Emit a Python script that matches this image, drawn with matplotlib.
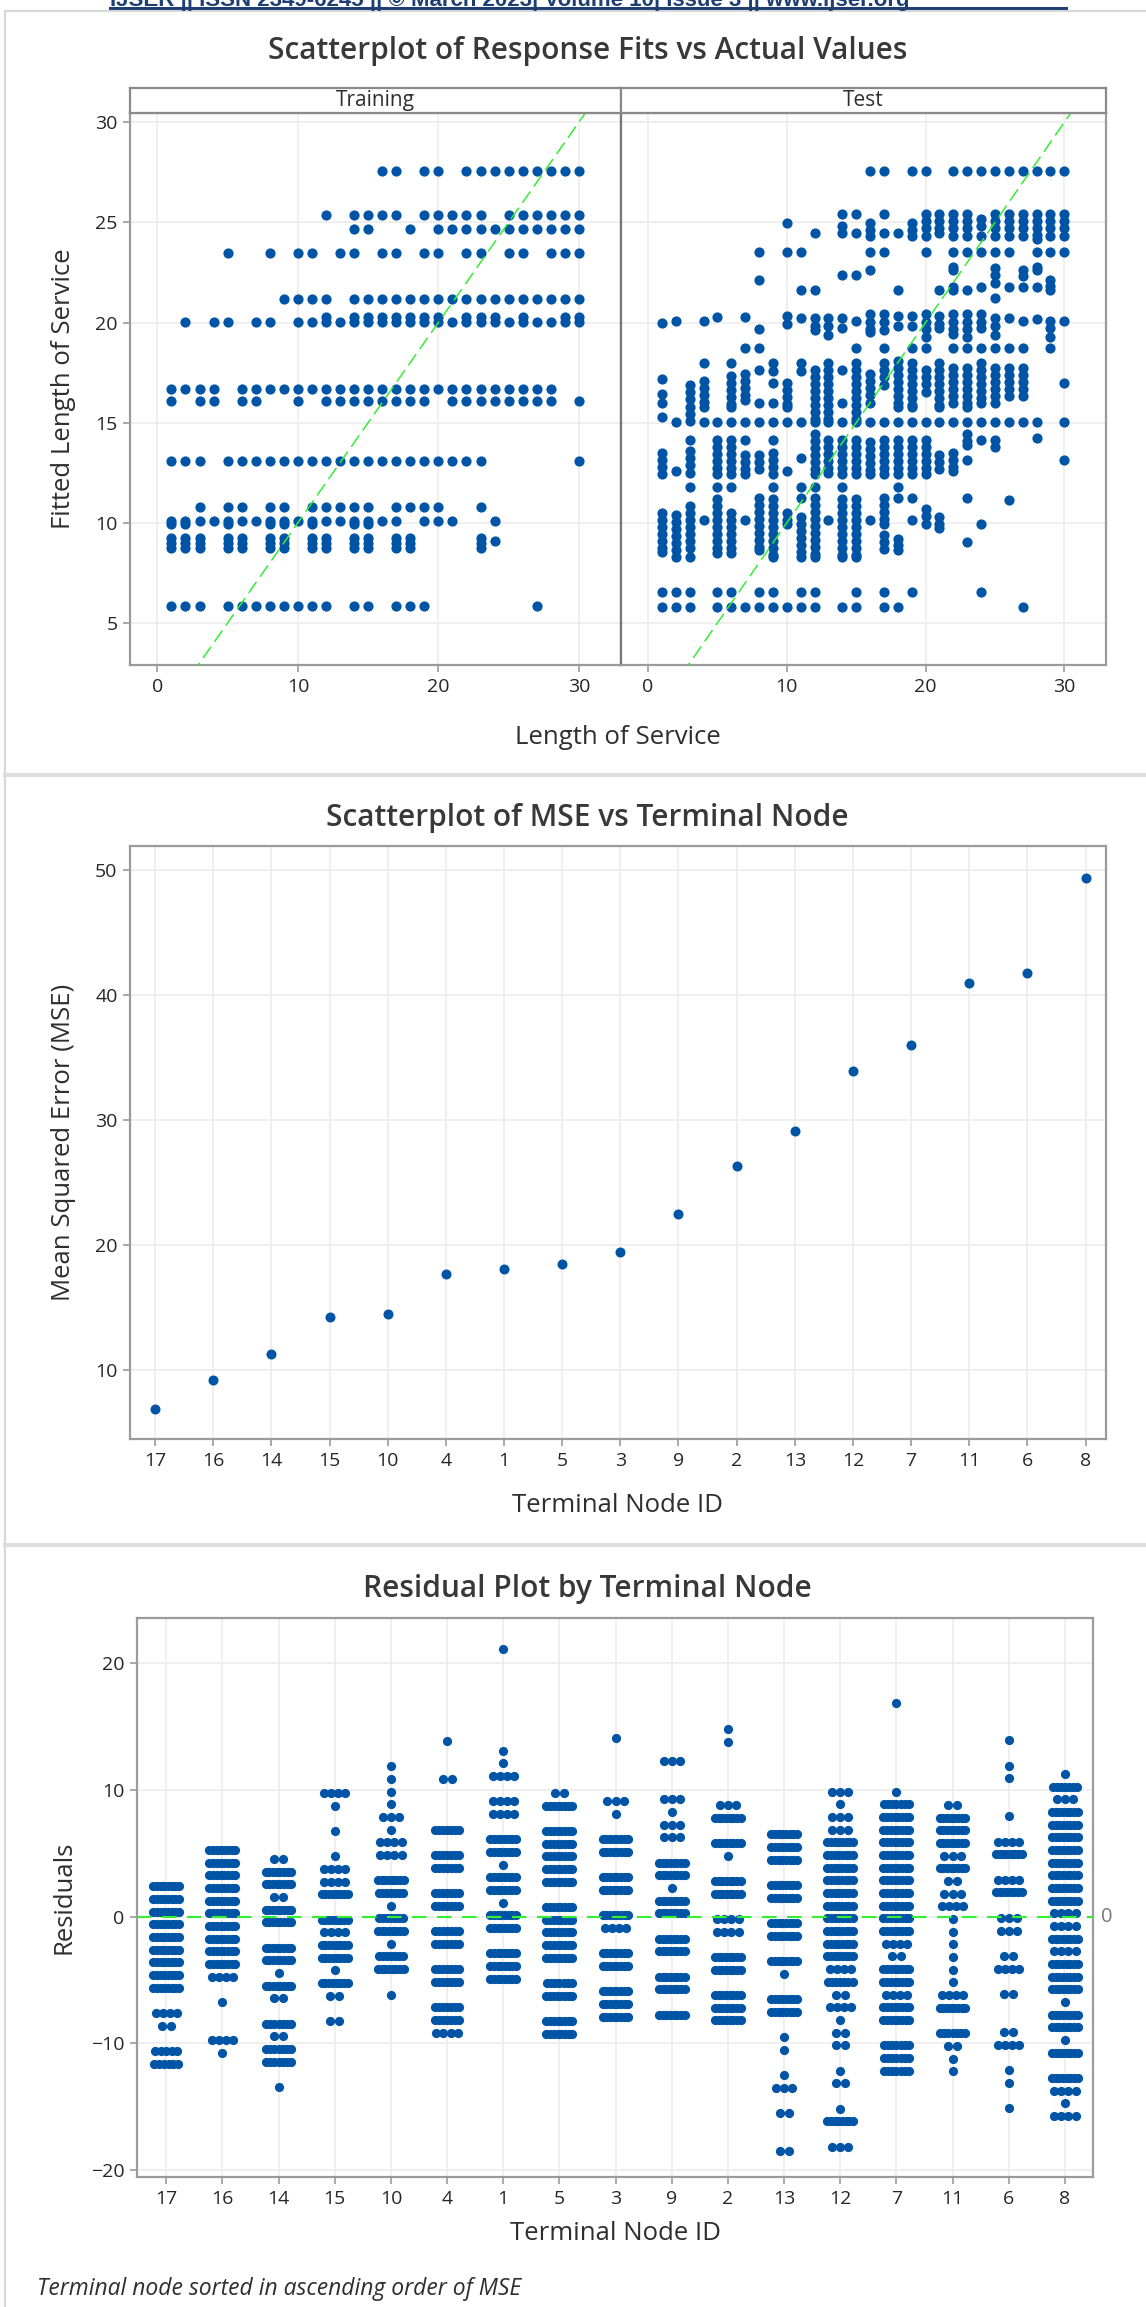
import numpy as np
import matplotlib
matplotlib.use("Agg")
import matplotlib.pyplot as plt
from matplotlib.lines import Line2D
from matplotlib.transforms import blended_transform_factory

plt.rcParams['font.family'] = ['Open Sans', 'DejaVu Sans']

# ---------------------------------------------------------------- data
# Training: fitted value level -> actual lengths of service at that level
train_levels = [27.55, 25.35, 24.65, 23.45, 21.15, 20.05, 20.25, 16.7, 16.1,
                13.1, 10.8, 10.1, 9.95, 9.25, 9.1, 9.0, 8.75, 5.85]
train_actual = [
    [16, 17, 19, 20, 22, 23, 24, 25, 26, 27, 28, 29, 30],
    [12, 14, 15, 16, 17, 19, 20, 21, 22, 23, 25, 26, 27, 28, 29, 30],
    [14, 15, 18, 20, 21, 22, 23, 24, 25, 26, 27, 28, 29, 30],
    [5, 8, 10, 11, 13, 14, 16, 17, 19, 20, 22, 23, 25, 26, 28, 29, 30],
    [9, 10, 11, 12, 14, 15, 16, 17, 18, 19, 20, 21, 22, 23, 24, 25, 26, 27, 28, 29, 30],
    [2, 4, 5, 7, 8, 10, 11, 12, 13, 14, 15, 16, 17, 18, 19, 20, 21, 22, 23, 24, 25, 26, 27, 28, 29, 30],
    [12, 14, 15, 16, 17, 18, 19, 20, 22, 23, 24, 26, 29, 30],
    [1, 2, 3, 4, 6, 7, 8, 9, 10, 11, 12, 13, 14, 15, 16, 17, 18, 19, 20, 21, 22, 23, 24, 25, 26, 27, 28],
    [1, 3, 4, 6, 7, 10, 12, 13, 14, 15, 16, 17, 18, 19, 21, 22, 23, 24, 25, 26, 27, 28, 30],
    [1, 2, 3, 5, 6, 7, 8, 9, 10, 11, 12, 13, 14, 15, 16, 17, 18, 19, 20, 21, 22, 23, 30],
    [3, 5, 6, 8, 9, 11, 12, 13, 14, 15, 17, 18, 19, 20, 23],
    [1, 2, 3, 4, 5, 6, 7, 8, 9, 10, 11, 12, 13, 14, 15, 16, 17, 19, 20, 21, 24],
    [1, 2, 5, 8, 9, 11, 14, 15],
    [1, 2, 3, 5, 6, 8, 9, 11, 12, 14, 15, 17, 18, 23],
    [24],
    [1, 2, 3, 5, 6, 8, 9, 11, 12, 14, 15, 17, 18, 23],
    [1, 2, 3, 5, 6, 8, 9, 11, 12, 14, 15, 17, 18, 23],
    [1, 2, 3, 5, 6, 7, 8, 9, 10, 11, 12, 14, 15, 17, 18, 19, 27],
]

# Test: actual length of service -> fitted values observed
test_actual = list(range(1, 31))
test_fits = [
    [20.0, 17.2, 16.45, 16.0, 15.3, 13.5, 13.15, 12.8, 12.45, 10.5, 10.15, 9.8, 9.45, 9.1, 8.75, 8.55, 6.55, 5.8],
    [20.1, 15.05, 12.6, 10.4, 10.05, 9.7, 9.35, 9.0, 8.65, 8.3, 6.55, 5.8],
    [16.9, 16.55, 16.2, 15.8, 15.45, 15.1, 14.15, 13.6, 13.25, 12.9, 12.5, 11.8, 10.85, 10.5, 10.15, 9.8, 9.45, 9.1, 8.75, 8.3, 6.55, 5.8],
    [20.1, 18.0, 17.1, 16.75, 16.4, 16.05, 15.8, 15.05, 10.15],
    [20.25, 15.05, 14.15, 13.8, 13.45, 13.1, 12.75, 12.45, 11.8, 11.2, 10.85, 10.5, 10.15, 9.8, 9.45, 9.1, 8.75, 8.5, 6.55, 5.8],
    [18.0, 17.35, 17.0, 16.65, 16.3, 15.95, 15.8, 15.05, 14.15, 13.8, 13.45, 13.1, 12.75, 12.45, 11.8, 10.5, 10.15, 9.8, 9.45, 9.1, 8.75, 8.5, 6.55, 5.8],
    [20.25, 18.75, 17.45, 17.1, 16.75, 16.4, 16.15, 15.05, 14.15, 13.4, 13.05, 12.7, 12.45, 10.15, 5.8],
    [23.5, 22.1, 19.7, 18.75, 17.65, 16.0, 15.05, 13.4, 13.05, 12.7, 11.25, 10.9, 10.55, 10.2, 9.85, 9.5, 9.15, 8.8, 8.65, 6.55, 5.8],
    [18.0, 17.6, 17.0, 16.0, 15.05, 14.15, 13.5, 13.15, 12.8, 12.45, 11.8, 11.2, 10.85, 10.5, 10.15, 9.8, 9.45, 9.1, 8.75, 8.4, 8.3, 6.55, 5.8],
    [24.95, 23.5, 20.3, 19.95, 17.0, 16.65, 16.3, 15.95, 15.8, 15.05, 12.6, 10.5, 10.15, 9.95, 5.8],
    [23.5, 21.6, 20.2, 18.0, 17.6, 15.05, 13.25, 11.8, 11.25, 10.3, 9.95, 9.6, 9.25, 8.9, 8.55, 8.3, 6.55, 5.8],
    [24.45, 21.6, 20.2, 19.85, 19.65, 17.65, 17.3, 16.95, 16.6, 16.25, 15.9, 15.55, 15.2, 15.05, 14.45, 14.1, 13.75, 13.4, 13.05, 12.7, 12.45, 11.8, 11.25, 10.9, 10.55, 10.2, 9.85, 9.5, 9.15, 8.8, 8.45, 8.3, 6.55, 5.8],
    [20.2, 19.85, 19.4, 18.0, 17.65, 17.3, 16.95, 16.6, 16.25, 15.9, 15.55, 15.2, 15.05, 14.15, 13.8, 13.45, 13.1, 12.75, 12.5, 10.15],
    [25.4, 24.8, 24.45, 22.35, 20.2, 19.75, 17.65, 16.0, 15.05, 14.15, 13.8, 13.45, 13.1, 12.75, 12.45, 11.8, 11.2, 10.85, 10.5, 10.15, 9.8, 9.45, 9.1, 8.75, 8.4, 8.3, 5.8],
    [25.4, 24.45, 22.35, 20.1, 18.75, 18.0, 17.65, 17.3, 16.95, 16.6, 16.25, 15.9, 15.55, 15.2, 15.05, 14.15, 13.8, 13.45, 13.1, 12.75, 12.45, 11.2, 10.85, 10.5, 10.15, 9.8, 9.45, 9.1, 8.75, 8.4, 8.3, 6.55, 5.8],
    [27.55, 24.95, 24.6, 24.3, 23.5, 22.6, 20.4, 20.05, 19.7, 19.55, 17.45, 17.1, 16.75, 16.4, 16.0, 15.05, 14.05, 13.7, 13.35, 13.0, 12.65, 12.45, 10.15],
    [27.55, 25.4, 24.45, 23.5, 20.4, 20.05, 19.65, 18.75, 18.0, 17.65, 17.3, 16.9, 15.05, 14.15, 13.8, 13.45, 13.1, 12.75, 12.45, 11.25, 10.9, 10.55, 10.2, 9.95, 9.4, 9.05, 8.7, 6.55, 5.8],
    [24.45, 21.6, 20.3, 19.85, 18.1, 17.75, 17.4, 17.05, 16.7, 16.35, 16.0, 15.8, 15.05, 14.15, 13.8, 13.45, 13.1, 12.75, 12.45, 11.8, 11.25, 9.2, 8.9, 8.65, 5.8],
    [27.55, 24.95, 24.6, 24.3, 20.3, 19.85, 18.75, 18.0, 17.65, 17.3, 16.95, 16.6, 16.25, 15.9, 15.8, 15.05, 14.15, 13.8, 13.45, 13.1, 12.75, 12.45, 11.25, 10.15, 6.55],
    [27.55, 25.4, 25.05, 24.7, 24.3, 23.5, 20.4, 20.05, 19.7, 19.3, 18.75, 17.65, 17.3, 16.95, 16.55, 15.05, 14.15, 13.8, 13.45, 13.1, 12.75, 12.45, 10.7, 10.35, 9.95],
    [25.4, 25.05, 24.7, 24.45, 21.6, 20.3, 19.95, 19.75, 18.0, 17.65, 17.3, 16.95, 16.6, 16.25, 15.9, 15.8, 15.05, 13.4, 13.05, 12.7, 10.3, 9.95, 9.75],
    [27.55, 25.4, 25.05, 24.7, 24.3, 23.5, 22.75, 22.6, 21.75, 21.6, 20.4, 20.05, 19.7, 19.45, 18.75, 17.75, 17.4, 17.05, 16.7, 16.35, 16.0, 15.05, 13.5, 13.15, 12.8, 12.6],
    [27.55, 25.4, 25.05, 24.7, 24.3, 23.5, 21.6, 20.4, 20.05, 19.7, 19.3, 18.75, 17.75, 17.4, 17.05, 16.7, 16.35, 16.0, 15.8, 15.05, 14.45, 14.1, 13.9, 13.15, 11.25, 9.05],
    [27.55, 25.15, 24.8, 24.3, 23.5, 21.75, 20.4, 20.05, 19.75, 18.75, 18.0, 17.65, 17.3, 16.95, 16.6, 16.25, 16.0, 15.05, 14.15, 9.95, 6.55],
    [27.55, 25.4, 25.05, 24.7, 24.3, 23.5, 22.7, 22.35, 21.95, 21.2, 20.2, 19.85, 19.4, 18.75, 17.75, 17.4, 17.05, 16.7, 16.35, 16.0, 15.05, 14.15, 13.8],
    [27.55, 25.4, 25.05, 24.7, 24.3, 23.5, 21.75, 20.2, 18.75, 17.75, 17.4, 17.05, 16.7, 16.35, 15.05, 11.15],
    [27.55, 25.4, 25.05, 24.7, 24.3, 22.6, 22.3, 21.75, 20.1, 18.75, 17.75, 17.4, 17.05, 16.7, 16.35, 15.05, 5.8],
    [27.55, 25.4, 25.05, 24.7, 24.35, 24.15, 23.5, 22.75, 22.6, 21.75, 20.15, 15.05, 14.25],
    [27.55, 25.4, 25.05, 24.7, 24.3, 23.5, 22.1, 21.8, 21.6, 20.1, 19.75, 19.3, 18.75],
    [27.55, 25.4, 25.05, 24.7, 24.3, 23.5, 20.1, 17.0, 15.05, 13.15],
]

# Terminal nodes sorted by MSE
node_order = [17, 16, 14, 15, 10, 4, 1, 5, 3, 9, 2, 13, 12, 7, 11, 6, 8]
node_mse = [6.9, 9.2, 11.3, 14.2, 14.5, 17.7, 18.1, 18.5, 19.4, 22.5, 26.3, 29.1,
            33.9, 36.0, 40.9, 41.7, 49.3]

# Residuals per terminal node: (residual value, number of cases)
node_residuals = {
    17: [(2.4, 8), (1.4, 8), (0.4, 8), (-0.6, 8), (-1.6, 8), (-2.6, 8), (-3.6, 8), (-4.6, 8),
         (-5.6, 8), (-7.6, 4), (-8.6, 2), (-10.6, 5), (-11.6, 6)],
    16: [(5.25, 8), (4.25, 8), (3.25, 8), (2.25, 8), (1.25, 8), (0.25, 8), (-0.75, 8), (-1.75, 8),
         (-2.75, 8), (-3.75, 8), (-4.75, 4), (-6.75, 1), (-9.75, 4), (-10.75, 1)],
    14: [(4.55, 2), (3.55, 8), (2.55, 8), (1.55, 2), (0.55, 8), (-0.45, 8), (-2.45, 8), (-3.45, 8),
         (-4.45, 1), (-5.45, 8), (-6.45, 2), (-8.45, 7), (-9.45, 2), (-10.45, 7), (-11.45, 7),
         (-13.45, 1)],
    15: [(9.75, 4), (8.75, 1), (6.75, 1), (4.75, 1), (3.75, 4), (2.75, 4), (1.75, 8), (-0.25, 8),
         (-1.25, 4), (-2.25, 8), (-3.25, 8), (-4.25, 1), (-5.25, 8), (-6.25, 2), (-8.25, 2)],
    10: [(11.85, 1), (10.85, 1), (9.85, 1), (8.85, 1), (7.85, 3), (6.85, 1), (5.85, 4), (4.85, 4),
         (2.85, 8), (1.85, 7), (0.85, 1), (-0.15, 7), (-1.15, 8), (-2.15, 1), (-3.15, 7),
         (-4.15, 8), (-6.15, 1)],
    4: [(13.85, 1), (10.85, 2), (6.85, 7), (4.85, 7), (3.85, 7), (1.85, 7), (0.85, 7), (-1.15, 7),
        (-2.15, 7), (-4.15, 7), (-5.15, 7), (-7.15, 7), (-8.15, 7), (-9.15, 4)],
    1: [(21.1, 1), (13.1, 1), (12.1, 1), (11.1, 4), (9.1, 4), (8.1, 4), (6.1, 8), (5.1, 8),
        (4.1, 1), (3.1, 8), (2.1, 8), (1.1, 1), (0.1, 8), (-0.9, 8), (-2.9, 8), (-3.9, 8),
        (-4.9, 8)],
    5: [(9.75, 2), (8.75, 8), (6.75, 8), (5.75, 8), (4.75, 8), (3.75, 8), (2.75, 8), (0.75, 8),
        (-0.25, 8), (-1.25, 8), (-2.25, 8), (-3.25, 8), (-5.25, 7), (-6.25, 8), (-8.25, 8),
        (-9.25, 8)],
    3: [(14.1, 1), (9.1, 3), (8.1, 1), (6.1, 8), (5.1, 8), (3.1, 8), (2.1, 8), (0.1, 8),
        (-0.9, 4), (-2.9, 8), (-3.9, 8), (-5.9, 8), (-6.9, 8), (-7.9, 8)],
    9: [(12.25, 3), (9.25, 3), (8.25, 1), (7.25, 3), (6.25, 3), (4.25, 8), (3.25, 8), (2.25, 1),
        (1.25, 8), (0.25, 8), (-1.75, 8), (-2.75, 8), (-4.75, 8), (-5.75, 8), (-7.75, 8)],
    2: [(14.8, 1), (13.8, 1), (8.8, 3), (7.8, 8), (5.8, 8), (4.8, 1), (2.8, 8), (1.8, 8),
        (-0.2, 4), (-1.2, 4), (-3.2, 8), (-4.2, 8), (-6.2, 8), (-7.2, 8), (-8.2, 8)],
    13: [(6.5, 8), (5.5, 8), (4.5, 8), (2.5, 8), (1.5, 8), (-0.5, 8), (-1.5, 8), (-3.5, 8),
         (-4.5, 1), (-6.5, 8), (-7.5, 8), (-9.5, 1), (-10.5, 1), (-12.5, 1), (-13.5, 3),
         (-15.5, 2), (-18.5, 2)],
    12: [(9.85, 3), (8.85, 1), (7.85, 3), (6.85, 3), (5.85, 8), (4.85, 8), (3.85, 8), (2.85, 8),
         (1.85, 8), (0.85, 8), (-0.15, 8), (-1.15, 8), (-2.15, 8), (-3.15, 8), (-4.15, 4),
         (-5.15, 7), (-6.15, 2), (-7.15, 4), (-8.15, 1), (-9.15, 2), (-10.15, 2), (-12.15, 1),
         (-13.15, 2), (-15.15, 1), (-16.15, 8), (-18.15, 3)],
    7: [(16.85, 1), (9.85, 1), (8.85, 7), (7.85, 8), (6.85, 8), (5.85, 8), (4.85, 8), (3.85, 8),
        (2.85, 8), (1.85, 8), (0.85, 8), (-0.15, 8), (-1.15, 8), (-2.15, 4), (-3.15, 2),
        (-4.15, 8), (-5.15, 8), (-6.15, 4), (-7.15, 8), (-8.15, 8), (-10.15, 7), (-11.15, 7),
        (-12.15, 7)],
    11: [(8.8, 2), (7.8, 8), (6.8, 8), (5.8, 8), (4.8, 3), (3.8, 8), (2.8, 2), (1.8, 3),
         (0.8, 4), (-0.2, 1), (-1.2, 1), (-2.2, 1), (-3.2, 1), (-4.2, 1), (-5.2, 1), (-6.2, 4),
         (-7.2, 8), (-9.2, 7), (-10.2, 2), (-11.2, 1), (-12.2, 1)],
    6: [(13.9, 1), (11.9, 1), (10.9, 1), (7.9, 1), (5.9, 4), (4.9, 8), (2.9, 4), (1.9, 8),
        (-0.1, 3), (-1.1, 3), (-3.1, 2), (-4.1, 4), (-6.1, 2), (-9.1, 2), (-10.1, 4),
        (-12.1, 1), (-13.1, 1), (-15.1, 1)],
    8: [(11.25, 1), (10.25, 7), (9.25, 3), (8.25, 8), (7.25, 8), (6.25, 8), (5.25, 8), (4.25, 8),
        (3.25, 8), (2.25, 8), (1.25, 8), (0.25, 4), (-0.75, 4), (-1.75, 8), (-2.75, 4),
        (-3.75, 8), (-4.75, 8), (-5.75, 8), (-6.75, 1), (-7.75, 8), (-8.75, 8), (-9.75, 1),
        (-10.75, 8), (-12.75, 8), (-13.75, 4), (-14.75, 1), (-15.75, 4)],
}

# ---------------------------------------------------------------- style
BLUE = '#0054A6'
GREEN = '#33ee33'
GRID = '#eeeeee'
SPINE = '#9b9b9b'
TXT = '#2e2e2e'

TITLE_FS = 21.5
LABEL_FS = 18.5
TICK_FS = 14

W, H = 1146, 2307
fig = plt.figure(figsize=(W / 100, H / 100), dpi=100)
fig.patch.set_facecolor('white')


def axes_px(x0, y0, x1, y1):
    return fig.add_axes([x0 / W, 1 - y1 / H, (x1 - x0) / W, (y1 - y0) / H])


def style(ax):
    ax.set_facecolor('white')
    ax.grid(True, color=GRID, lw=1.3)
    ax.set_axisbelow(True)
    for s in ax.spines.values():
        s.set_color(SPINE)
        s.set_linewidth(1.6)
    ax.tick_params(colors=SPINE, labelcolor='#262626', labelsize=TICK_FS, length=5, width=1.2,
                   direction='out', pad=4)


def fig_line(xs, ys, color, lw):
    fig.add_artist(Line2D([x / W for x in xs], [1 - y / H for y in ys],
                          color=color, lw=lw, transform=fig.transFigure))


def fig_text(x, y, s, **kw):
    fig.text(x / W, 1 - y / H, s, color=kw.pop('color', TXT), **kw)


# page header and pane borders
fig_text(110, 6, 'IJSER || ISSN 2349-6245 || \u00a9 March 2023| Volume 10| Issue 3 || www.ijser.org',
         fontsize=16, fontweight='bold', family=['Liberation Sans', 'DejaVu Sans'],
         color='#1f3f73', va='baseline', ha='left')
fig_line([110, 1066], [7.5, 7.5], '#1f3f73', 2.2)
fig_line([5, W], [11, 11], '#d6d6d6', 1.5)
fig_line([5, 5], [11, H], '#d6d6d6', 1.5)
fig_line([5, W], [775, 775], '#dddddd', 3.0)
fig_line([5, W], [1545, 1545], '#dddddd', 3.0)

# ---------------------------------------------------------------- panel 1
fig_text(588, 51, 'Scatterplot of Response Fits vs Actual Values', fontsize=TITLE_FS,
         fontweight='semibold', color='#383838', ha='center', va='center')

xlim1 = (-1.95, 33.0)
ylim1 = (2.9, 30.46)
ax_tr = axes_px(130, 113, 621, 665)
ax_te = axes_px(621, 113, 1106, 665)
for ax, name in ((ax_tr, 'Training'), (ax_te, 'Test')):
    style(ax)
    ax.set_xlim(*xlim1)
    ax.set_ylim(*ylim1)
    ax.set_xticks([0, 10, 20, 30])
    ax.set_yticks([5, 10, 15, 20, 25, 30])
    ax.plot([0, 32], [0, 32], color=GREEN, lw=1.1, dashes=(9, 4), zorder=3)
    bb = ax.get_position()
    strip = fig.add_axes([bb.x0, 1 - 113 / H, bb.width, 25 / H])
    strip.set_xticks([])
    strip.set_yticks([])
    for s in strip.spines.values():
        s.set_color('#8a8a8a')
        s.set_linewidth(1.6)
    strip.text(0.5, 0.5, name, ha='center', va='center', fontsize=15, color=TXT,
               transform=strip.transAxes)
ax_te.tick_params(axis='y', left=False, labelleft=False)
ax_tr.spines['right'].set_color('#777777')
ax_te.spines['left'].set_color('#777777')

for lvl, xs in zip(train_levels, train_actual):
    ax_tr.scatter(xs, [lvl] * len(xs), s=54, color=BLUE, linewidths=0, zorder=2)
for xa, fits in zip(test_actual, test_fits):
    ax_te.scatter([xa] * len(fits), fits, s=54, color=BLUE, linewidths=0, zorder=2)

fig_text(64, 389, 'Fitted Length of Service', fontsize=LABEL_FS, rotation=90,
         ha='center', va='center')
fig_text(618, 737, 'Length of Service', fontsize=LABEL_FS, ha='center', va='center')

# ---------------------------------------------------------------- panel 2
fig_text(587, 818, 'Scatterplot of MSE vs Terminal Node', fontsize=TITLE_FS,
         fontweight='semibold', color='#383838', ha='center', va='center')
ax2 = axes_px(130, 846, 1106, 1439)
style(ax2)
pos = np.arange(len(node_order))
ax2.scatter(pos, node_mse, s=52, color=BLUE, linewidths=0, zorder=3)
ax2.set_xlim(-0.43, 16.35)
ax2.set_ylim(4.46, 51.9)
ax2.set_xticks(pos)
ax2.set_xticklabels([str(n) for n in node_order])
ax2.set_yticks([10, 20, 30, 40, 50])
fig_text(64, 1142, 'Mean Squared Error (MSE)', fontsize=LABEL_FS, rotation=90,
         ha='center', va='center')
fig_text(618, 1505, 'Terminal Node ID', fontsize=LABEL_FS, ha='center', va='center')

# ---------------------------------------------------------------- panel 3
fig_text(587, 1589, 'Residual Plot by Terminal Node', fontsize=TITLE_FS,
         fontweight='semibold', color='#383838', ha='center', va='center')
ax3 = axes_px(137, 1618, 1093, 2177)
style(ax3)
SPREAD = [0.0, 0.0, 0.16, 0.29, 0.38, 0.40, 0.42, 0.44, 0.46]
rx, ry = [], []
for i, node in enumerate(node_order):
    for val, n in node_residuals[node]:
        w = SPREAD[min(n, 8)]
        offs = np.linspace(-w / 2, w / 2, n) if n > 1 else np.zeros(1)
        rx.extend(i + offs)
        ry.extend([val] * n)
ax3.scatter(rx, ry, s=44, color=BLUE, linewidths=0, zorder=2)
ax3.axhline(0, color=GREEN, lw=1.5, dashes=(7, 5), zorder=3)
ax3.set_xlim(-0.52, 16.5)
ax3.set_ylim(-20.55, 23.56)
ax3.set_xticks(pos)
ax3.set_xticklabels([str(n) for n in node_order])
ax3.set_yticks([-20, -10, 0, 10, 20])
ax3.text(1.008, 0, '0', transform=blended_transform_factory(ax3.transAxes, ax3.transData),
         color='#777777', fontsize=14.5, va='center', ha='left')
fig_text(64, 1897, 'Residuals', fontsize=LABEL_FS, rotation=90, ha='center', va='center')
fig_text(615, 2233, 'Terminal Node ID', fontsize=LABEL_FS, ha='center', va='center')
fig_text(37, 2289, 'Terminal node sorted in ascending order of MSE', fontsize=16.5,
         style='italic', ha='left', va='center')

fig.savefig('out.png', dpi=100, facecolor='white')
